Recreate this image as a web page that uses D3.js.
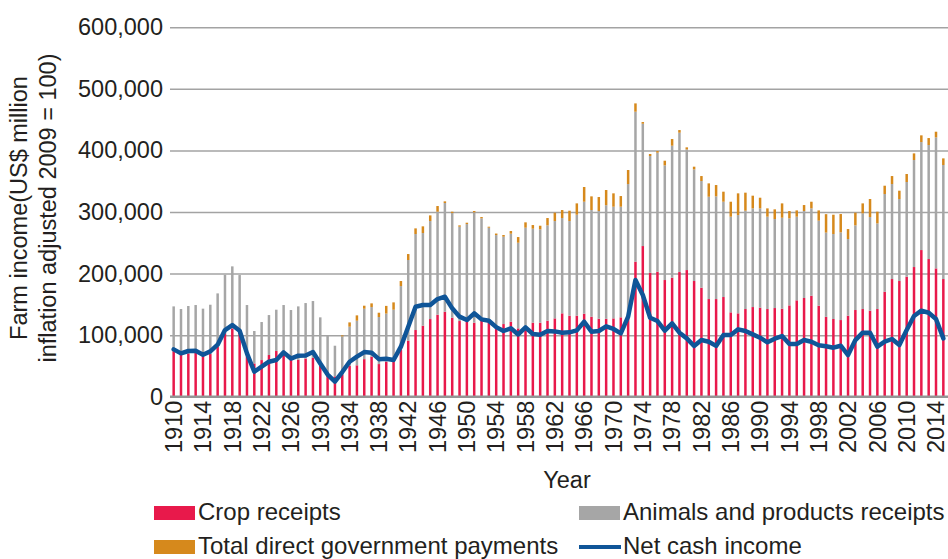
<!DOCTYPE html>
<html>
<head>
<meta charset="utf-8">
<script src="https://cdn.jsdelivr.net/npm/d3@7/dist/d3.min.js"></script>
<style>
  body { margin: 0; background: #fff; }
  svg text { font-family: "Liberation Sans", Arial, sans-serif; fill: #231f20; }
</style>
</head>
<body>
<div id="chart"></div>
<script>
// farm income by year, US$ million (inflation adjusted, 2009 = 100)
var years = d3.range(1910, 2016);

var cropReceipts = [
  74000, 69300, 70400, 71500, 66000, 69300, 81200, 103000, 111000, 107000,
  65000, 54000, 59500, 67700, 74200, 74000, 62000, 60000, 62000, 63000,
  50000, 38000, 33000, 36000, 50000, 51000, 61000, 65000, 53000, 57000,
  57000, 75800, 91000, 108300, 115300, 126100, 133200, 138000, 128300, 122900,
  121800, 120200, 124500, 121800, 112000, 118000, 121800, 111000, 113700, 120200,
  120200, 123400, 127200, 135400, 131600, 131600, 134800, 130000, 126700, 126500,
  127200, 128900, 130000, 219300, 244700, 201400, 203000, 189500, 193300, 202500,
  205700, 187900, 177000, 158600, 158600, 161900, 137000, 135400, 142400, 145600,
  144600, 142400, 144000, 142900, 148300, 156500, 160300, 164000, 147800, 129700,
  126200, 124500, 131600, 140800, 142400, 139700, 142400, 170500, 191100, 187900,
  194900, 210600, 238200, 223600, 208400, 191100
];

var animalReceipts = [
  72700, 73100, 76900, 77400, 77000, 80100, 86600, 95000, 100700, 90600,
  83900, 52700, 61800, 64900, 67100, 74900, 78800, 86700, 90100, 92400,
  78900, 61600, 49800, 62000, 63700, 72400, 81900, 80600, 76400, 78000,
  84300, 103900, 131000, 155900, 150500, 159200, 167300, 176600, 170000, 153200,
  158600, 179200, 165200, 152700, 150500, 141900, 143000, 139100, 160800, 152700,
  151600, 154900, 158100, 154800, 153700, 164000, 181900, 173200, 174900, 184500,
  181400, 179700, 215400, 243600, 198700, 189500, 193300, 186200, 214400, 226300,
  196000, 181300, 173300, 166200, 166800, 154800, 155400, 159600, 159700, 160300,
  161300, 150000, 144600, 147800, 141400, 135900, 141300, 141900, 138100, 136900,
  138000, 142400, 124500, 137500, 155400, 152100, 139100, 158700, 154300, 133200,
  153800, 173800, 175400, 185200, 212800, 185200
];

var govPayments = [
  0, 0, 0, 0, 0, 0, 0, 0, 0, 0,
  0, 0, 0, 0, 0, 0, 0, 0, 0, 0,
  0, 0, 0, 1600, 7000, 8700, 4900, 6000, 7000, 12500,
  11900, 8200, 9700, 9200, 10900, 9200, 9200, 2700, 2200, 2200,
  2200, 2200, 2100, 1600, 2500, 2700, 4300, 9200, 8700, 5900,
  5900, 11900, 13600, 13000, 16800, 18400, 23900, 22200, 22700, 24700,
  21700, 17300, 22800, 13500, 2700, 3300, 2700, 7600, 10800, 4300,
  3300, 4400, 8100, 21700, 18400, 16300, 24300, 35300, 29300, 20600,
  17300, 13500, 15700, 23300, 11900, 10200, 9700, 10800, 16700, 29900,
  31400, 29800, 16200, 20600, 16200, 29300, 19000, 13500, 13000, 13500,
  13000, 10800, 10900, 11300, 9200, 10800
];

var netCashIncome = [
  76900, 70400, 74200, 74700, 68200, 73600, 84500, 108300, 116400, 107200,
  70400, 40600, 48700, 56800, 59600, 72000, 62000, 66600, 67000, 72500,
  54000, 36000, 24400, 40000, 56800, 65000, 72500, 71500, 61000, 61700,
  59600, 81200, 113700, 146200, 148900, 148900, 158600, 162400, 143500, 130000,
  124500, 135400, 125600, 123400, 113000, 106700, 111000, 101200, 112600, 101800,
  100700, 106700, 106100, 104000, 104500, 107700, 121800, 105600, 106700, 114300,
  110000, 102900, 130000, 189500, 165100, 128300, 122900, 107200, 119100, 104000,
  94700, 82300, 92000, 89300, 82500, 100200, 100200, 109400, 106700, 101200,
  95800, 88300, 94200, 98500, 85500, 85500, 92000, 89300, 83400, 82000,
  79600, 82800, 67700, 92000, 104000, 104000, 81200, 89300, 93700, 83900,
  108300, 131000, 139700, 136400, 126200, 94700
];

var yTicks = [0, 100000, 200000, 300000, 400000, 500000, 600000];
var xTickYears = years.filter(function(d) { return (d - 1910) % 4 === 0; });

var seriesKeys = ["crop", "animals", "gov"];
var seriesNames = ["Crop receipts", "Animals and products receipts",
                   "Total direct government payments", "Net cash income"];
var colors = { crop: "#e8194b", animals: "#a6a6a6", gov: "#d6891c", net: "#0f5598" };

var width = 948, height = 559;
var plotLeft = 170, plotRight = 947, plotTop = 27.3, plotBottom = 396.7;

var table = years.map(function(yr, i) {
  return { year: yr, crop: cropReceipts[i], animals: animalReceipts[i],
           gov: govPayments[i], net: netCashIncome[i] };
});

var svg = d3.select("#chart").append("svg")
  .attr("width", width)
  .attr("height", height);

var x = d3.scaleBand()
  .domain(years)
  .range([plotLeft, plotRight])
  .paddingInner(0.66)
  .paddingOuter(0.33);

var y = d3.scaleLinear()
  .domain([0, 600000])
  .range([plotBottom, plotTop]);

var fontSize = "23.5px";

// gridlines + y labels
var yAxis = svg.append("g")
  .attr("transform", "translate(" + plotLeft + ",0)")
  .call(d3.axisLeft(y)
    .tickValues(yTicks)
    .tickSize(-(width - plotLeft))
    .tickPadding(7)
    .tickFormat(d3.format(",")));
yAxis.select(".domain").remove();
yAxis.selectAll(".tick line")
  .attr("stroke", "#a3a3a3")
  .attr("stroke-width", 1.5);
yAxis.selectAll(".tick text")
  .style("font-size", fontSize)
  .attr("fill", "#231f20");

// stacked bars
var stacked = d3.stack().keys(seriesKeys)(table);

svg.append("g").selectAll("g")
  .data(stacked)
  .enter()
  .append("g")
  .attr("fill", function(d) { return colors[d.key]; })
  .selectAll("rect")
  .data(function(d) { return d; })
  .enter()
  .append("rect")
  .attr("x", function(d) { return x(d.data.year); })
  .attr("width", x.bandwidth())
  .attr("y", function(d) { return y(d[1]); })
  .attr("height", function(d) { return y(d[0]) - y(d[1]); });

// zero line
svg.append("line")
  .attr("x1", plotLeft).attr("x2", width)
  .attr("y1", y(0)).attr("y2", y(0))
  .attr("stroke", "#959595")
  .attr("stroke-width", 2.5);

// net cash income line
var line = d3.line()
  .x(function(d) { return x(d.year) + x.bandwidth() / 2; })
  .y(function(d) { return y(d.net); });

svg.append("path")
  .datum(table)
  .attr("d", line)
  .attr("fill", "none")
  .attr("stroke", colors.net)
  .attr("stroke-width", 4.5)
  .attr("stroke-linejoin", "round")
  .attr("stroke-linecap", "round");

// x axis labels
var xAxis = svg.append("g")
  .attr("transform", "translate(0," + y(0) + ")")
  .call(d3.axisBottom(x).tickValues(xTickYears).tickSize(0));
xAxis.select(".domain").remove();
xAxis.selectAll(".tick text")
  .style("font-size", fontSize)
  .attr("fill", "#231f20")
  .attr("transform", "rotate(-90)")
  .attr("x", -4)
  .attr("y", 0)
  .attr("dy", "0.35em")
  .style("text-anchor", "end");

// axis titles
svg.append("text")
  .attr("x", 567).attr("y", 488)
  .attr("text-anchor", "middle")
  .style("font-size", fontSize)
  .text("Year");

var yTitle = ["Farm income(US$ million", "inflation adjusted 2009 = 100)"];
svg.selectAll(".ytitle")
  .data(yTitle)
  .enter()
  .append("text")
  .attr("class", "ytitle")
  .attr("transform", function(d, i) { return "translate(" + (27 + i * 29) + ",208) rotate(-90)"; })
  .attr("text-anchor", "middle")
  .style("font-size", fontSize)
  .text(function(d) { return d; });

// legend
var legendPos = [[154, 506], [579, 506], [154, 540], [579, 540]];
var legendColors = [colors.crop, colors.animals, colors.gov, colors.net];

var legend = svg.append("g").selectAll("g")
  .data(seriesNames)
  .enter()
  .append("g")
  .attr("transform", function(d, i) { return "translate(" + legendPos[i][0] + "," + legendPos[i][1] + ")"; });

legend.each(function(d, i) {
  var g = d3.select(this);
  if (i < 3) {
    g.append("rect")
      .attr("width", 41).attr("height", 14)
      .attr("fill", legendColors[i]);
  } else {
    g.append("line")
      .attr("x1", 0).attr("x2", 42)
      .attr("y1", 7).attr("y2", 7)
      .attr("stroke", legendColors[i])
      .attr("stroke-width", 4);
  }
  g.append("text")
    .attr("x", 44).attr("y", 13.5)
    .style("font-size", "24px")
    .text(d);
});
</script>
</body>
</html>
